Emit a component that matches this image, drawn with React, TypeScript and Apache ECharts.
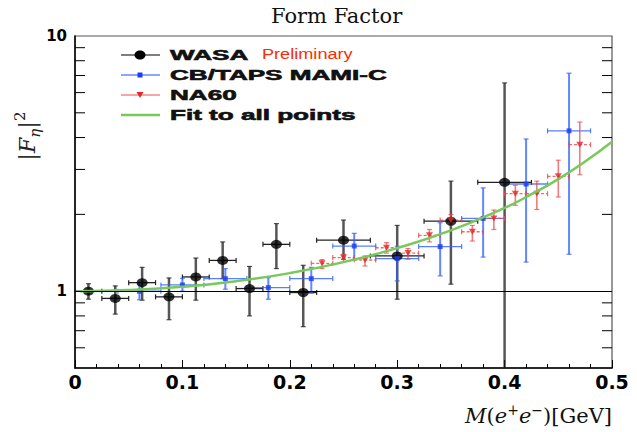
import React, { useEffect, useRef } from 'react';
import * as echarts from 'echarts';

// ---- data ----
const wasaX = [0.0125, 0.0375, 0.0625, 0.0875, 0.1125, 0.1375, 0.1625, 0.1875, 0.2125, 0.25, 0.3, 0.35, 0.4];
const wasaY = [1.0, 0.937, 1.08, 0.95, 1.137, 1.32, 1.024, 1.526, 0.988, 1.585, 1.374, 1.88, 2.67];
const wasaXErr = [0.0125, 0.0125, 0.0125, 0.0125, 0.0125, 0.0125, 0.0125, 0.0125, 0.0125, 0.025, 0.025, 0.025, 0.025];
const wasaLow = [0.93, 0.813, 0.922, 0.773, 0.922, 1.12, 0.8, 1.226, 0.726, 1.334, 0.93, 1.065, 0.5];
const wasaHigh = [1.07, 1.049, 1.24, 1.127, 1.349, 1.56, 1.25, 1.84, 1.263, 1.9, 1.81, 2.7, 6.55];

const cbX = [0.06, 0.1, 0.14, 0.18, 0.22, 0.26, 0.3, 0.34, 0.38, 0.42, 0.46];
const cbY = [1.0, 1.058, 1.12, 1.033, 1.12, 1.503, 1.342, 1.495, 1.928, 2.63, 4.25];
const cbXErr = [0.02, 0.02, 0.02, 0.02, 0.02, 0.02, 0.02, 0.02, 0.02, 0.02, 0.02];
const cbLow = [0.925, 1.0, 1.018, 0.93, 0.982, 1.334, 1.097, 1.148, 1.36, 1.3, 1.395];
const cbHigh = [1.065, 1.124, 1.226, 1.13, 1.24, 1.685, 1.5, 1.854, 2.54, 3.95, 7.15];

const naX = [0.23, 0.25, 0.27, 0.29, 0.31, 0.33, 0.35, 0.37, 0.39, 0.41, 0.43, 0.45, 0.47];
const naY = [1.286, 1.354, 1.325, 1.48, 1.41, 1.655, 1.9, 1.71, 1.928, 2.41, 2.41, 2.82, 3.75];
const naXErr = [0.01, 0.01, 0.01, 0.01, 0.01, 0.01, 0.01, 0.01, 0.01, 0.01, 0.01, 0.01, 0.01];
const naLow = [1.226, 1.3, 1.255, 1.41, 1.334, 1.56, 1.81, 1.572, 1.745, 2.17, 2.09, 2.34, 2.86];
const naHigh = [1.33, 1.395, 1.374, 1.55, 1.47, 1.745, 1.998, 1.81, 2.08, 2.6, 2.7, 3.26, 4.6];

const fitX = [0.005, 0.05, 0.1, 0.15, 0.2, 0.25, 0.3, 0.35, 0.4, 0.425, 0.45, 0.475, 0.5];
const fitY = [1.0, 1.01, 1.04, 1.094, 1.177, 1.3, 1.475, 1.73, 2.12, 2.4, 2.75, 3.22, 3.85];

const yMinorTicks = [0.6, 0.7, 0.8, 0.9, 2, 3, 4, 5, 6, 7, 8, 9];
const xMin = 0;
const xMax = 0.5;
const yMin = 0.5;
const yMax = 10;

const legendNames = ['WASA', 'CB/TAPS MAMI-C', 'NA60', 'Fit to all points'];

function errSeries(name: string, xs: number[], ys: number[], xe: number[], lo: number[], hi: number[],
  vColor: string, vWidth: number, hColor: string, hWidth: number, dash: number[] | null) {
  return {
    type: 'custom',
    name,
    data: xs.map((x, i) => [x, ys[i], x - xe[i], x + xe[i], lo[i], hi[i]]),
    encode: { x: 0, y: 1 },
    silent: true,
    renderItem: (params: any, api: any) => {
      const c = api.coord([api.value(0), api.value(1)]);
      const l = api.coord([api.value(2), api.value(1)]);
      const r = api.coord([api.value(3), api.value(1)]);
      const b = api.coord([api.value(0), api.value(4)]);
      const t = api.coord([api.value(0), api.value(5)]);
      const cs = params.coordSys;
      const bottom = cs.y + cs.height;
      const cap = 2.5;
      const children: any[] = [
        { type: 'line', shape: { x1: b[0], y1: Math.min(b[1], bottom), x2: t[0], y2: t[1] }, style: { stroke: vColor, lineWidth: vWidth } },
        { type: 'line', shape: { x1: l[0], y1: c[1], x2: r[0], y2: c[1] }, style: { stroke: hColor, lineWidth: hWidth, lineDash: dash || undefined } },
        { type: 'line', shape: { x1: t[0] - cap, y1: t[1], x2: t[0] + cap, y2: t[1] }, style: { stroke: vColor, lineWidth: 1.2 } },
        { type: 'line', shape: { x1: l[0], y1: c[1] - cap, x2: l[0], y2: c[1] + cap }, style: { stroke: hColor, lineWidth: 1.2 } },
        { type: 'line', shape: { x1: r[0], y1: c[1] - cap, x2: r[0], y2: c[1] + cap }, style: { stroke: hColor, lineWidth: 1.2 } },
      ];
      if (b[1] < bottom - 1) {
        children.push({ type: 'line', shape: { x1: b[0] - cap, y1: b[1], x2: b[0] + cap, y2: b[1] }, style: { stroke: vColor, lineWidth: 1.2 } });
      }
      return { type: 'group', children };
    },
  };
}

const legendRows = [55, 75, 95, 115];
const lx1 = 121, lx2 = 160, lmx = 140, ltx = 170;
const sx = 1.74;
const legendFont = 'bold 15px "Liberation Sans", Arial, sans-serif';
const legendTextStyle = { font: legendFont, fill: '#111', stroke: '#111', lineWidth: 0.6, textAlign: 'left', textVerticalAlign: 'middle' };

const graphics: any[] = [
  // legend
  { type: 'line', shape: { x1: lx1, y1: legendRows[0], x2: lx2, y2: legendRows[0] }, style: { stroke: '#555', lineWidth: 1.5 } },
  { type: 'ellipse', shape: { cx: lmx, cy: legendRows[0], rx: 5.5, ry: 4.5 }, style: { fill: '#000' } },
  { type: 'text', x: ltx, y: legendRows[0], scaleX: sx, style: { ...legendTextStyle, text: legendNames[0] } },
  { type: 'text', x: 262, y: legendRows[0] - 1, scaleX: 1.17, style: { text: 'Preliminary', font: '15.5px "Liberation Sans", Arial, sans-serif', fill: '#ff2a00', textAlign: 'left', textVerticalAlign: 'middle' } },

  { type: 'line', shape: { x1: lx1, y1: legendRows[1], x2: lx2, y2: legendRows[1] }, style: { stroke: '#6a86ff', lineWidth: 1.5 } },
  { type: 'rect', shape: { x: lmx - 2.5, y: legendRows[1] - 2.5, width: 5, height: 5 }, style: { fill: '#1e3cf0' } },
  { type: 'text', x: ltx, y: legendRows[1], scaleX: sx, style: { ...legendTextStyle, text: legendNames[1] } },

  { type: 'line', shape: { x1: lx1, y1: legendRows[2], x2: lx2, y2: legendRows[2] }, style: { stroke: '#f08a8a', lineWidth: 1.5 } },
  { type: 'polygon', shape: { points: [[lmx - 3.5, legendRows[2] - 3], [lmx + 3.5, legendRows[2] - 3], [lmx, legendRows[2] + 3]] }, style: { fill: '#e8262a' } },
  { type: 'text', x: ltx, y: legendRows[2], scaleX: sx, style: { ...legendTextStyle, text: legendNames[2] } },

  { type: 'line', shape: { x1: lx1, y1: legendRows[3], x2: lx2, y2: legendRows[3] }, style: { stroke: '#77c95a', lineWidth: 2.5 } },
  { type: 'text', x: ltx, y: legendRows[3], scaleX: sx, style: { ...legendTextStyle, text: legendNames[3] } },

  // y axis name |F_eta|^2
  {
    type: 'text', x: 27, y: 136, rotation: Math.PI / 2,
    style: {
      text: '{b||}{f|F}{sub|η}{b||}{sup|2}',
      fill: '#222',
      textAlign: 'center', textVerticalAlign: 'middle',
      rich: {
        b: { fontFamily: 'DejaVu Serif', fontSize: 23, lineHeight: 30, fill: '#333' },
        f: { fontFamily: 'DejaVu Serif', fontStyle: 'italic', fontSize: 22, lineHeight: 30, fill: '#222' },
        sub: { fontFamily: 'DejaVu Serif', fontStyle: 'italic', fontSize: 15, lineHeight: 15, verticalAlign: 'bottom', fill: '#222' },
        sup: { fontFamily: 'DejaVu Serif', fontSize: 15, lineHeight: 15, verticalAlign: 'top', fill: '#222' },
      },
    },
  },
];

const option: any = {
  animation: false,
  backgroundColor: '#fff',
  title: {
    text: 'Form Factor',
    left: 266,
    top: 0,
    textStyle: { fontFamily: 'DejaVu Serif', fontSize: 21, fontWeight: 'normal', color: '#111' },
  },
  grid: { left: 75, right: 25, top: 36, bottom: 64, show: true, borderColor: '#555', borderWidth: 1.2, backgroundColor: 'transparent' },
  xAxis: {
    type: 'value', min: xMin, max: xMax, interval: 0.1,
    name: '{i|M}{n|(}{i|e}{s|+}{i|e}{s|−}{n|)[GeV]}',
    nameLocation: 'end', nameGap: 0,
    nameTextStyle: {
      align: 'right', verticalAlign: 'top', padding: [35, 0, 0, 0],
      fontFamily: 'DejaVu Serif', fontSize: 21, color: '#111',
      rich: {
        i: { fontFamily: 'DejaVu Serif', fontStyle: 'italic', fontSize: 21, lineHeight: 26, color: '#111' },
        n: { fontFamily: 'DejaVu Serif', fontSize: 21, lineHeight: 26, color: '#111' },
        s: { fontFamily: 'DejaVu Serif', fontSize: 14, lineHeight: 14, verticalAlign: 'top', color: '#111' },
      },
    },
    axisLine: { show: true, lineStyle: { color: '#000', width: 1.5 } },
    axisTick: { show: true, inside: true, length: 8, lineStyle: { color: '#000', width: 1 } },
    minorTick: { show: true, splitNumber: 5, length: 4, lineStyle: { color: '#000', width: 1 } },
    splitLine: { show: false },
    axisLabel: {
      margin: 4, color: '#000', fontFamily: 'DejaVu Sans', fontWeight: 'bold', fontSize: 19,
      showMinLabel: true, showMaxLabel: true,
      formatter: (v: number) => (Math.abs(v) < 1e-9 ? '0' : String(Math.round(v * 10) / 10)),
    },
  },
  yAxis: {
    type: 'log', logBase: 10, min: yMin, max: yMax,
    axisLine: { show: true, lineStyle: { color: '#000', width: 1.5 } },
    axisTick: { show: false },
    splitLine: { show: false },
    axisLabel: {
      margin: 8, color: '#000', fontFamily: 'DejaVu Sans', fontWeight: 'bold', fontSize: 15,
      formatter: (v: number) => (Math.abs(v - 1) < 1e-6 ? '1' : Math.abs(v - 10) < 1e-6 ? '10' : ''),
    },
  },
  graphic: graphics,
  series: [
    {
      type: 'custom',
      name: 'yticks',
      silent: true,
      data: yMinorTicks.map((v) => [xMin, v]),
      encode: { x: 0, y: 1 },
      renderItem: (params: any, api: any) => {
        const p = api.coord([api.value(0), api.value(1)]);
        const cs = params.coordSys;
        const L = 10;
        return {
          type: 'group',
          children: [
            { type: 'line', shape: { x1: cs.x, y1: p[1], x2: cs.x + L, y2: p[1] }, style: { stroke: '#000', lineWidth: 1 } },
            { type: 'line', shape: { x1: cs.x + cs.width - L, y1: p[1], x2: cs.x + cs.width, y2: p[1] }, style: { stroke: '#000', lineWidth: 1 } },
          ],
        };
      },
    },
    errSeries('WASA bars', wasaX, wasaY, wasaXErr, wasaLow, wasaHigh, 'rgba(30,30,30,0.75)', 2.5, '#222', 1.3, null),
    {
      type: 'scatter', name: legendNames[0], data: wasaX.map((x, i) => [x, wasaY[i]]),
      symbol: 'circle', symbolSize: [11, 9], itemStyle: { color: '#000' }, silent: true,
    },
    errSeries('CB bars', cbX, cbY, cbXErr, cbLow, cbHigh, 'rgba(45,95,255,0.75)', 2, 'rgba(45,95,255,0.8)', 1.3, null),
    {
      type: 'scatter', name: legendNames[1], data: cbX.map((x, i) => [x, cbY[i]]),
      symbol: 'rect', symbolSize: 5, itemStyle: { color: '#1e3cf0' }, silent: true,
    },
    errSeries('NA60 bars', naX, naY, naXErr, naLow, naHigh, 'rgba(232,70,70,0.7)', 1.6, 'rgba(232,70,70,0.8)', 1.3, [3, 2]),
    {
      type: 'scatter', name: legendNames[2], data: naX.map((x, i) => [x, naY[i]]),
      symbol: 'triangle', symbolRotate: 180, symbolSize: [7, 6], itemStyle: { color: '#e8262a' }, silent: true,
    },
    {
      type: 'line', name: legendNames[3], data: fitX.map((x, i) => [x, fitY[i]]),
      smooth: true, showSymbol: false, symbol: 'none', silent: true,
      lineStyle: { color: '#77c95a', width: 2.5 },
      markLine: {
        silent: true, symbol: 'none', label: { show: false },
        lineStyle: { color: '#000', width: 1, type: 'solid' },
        data: [{ yAxis: 1 }],
      },
    },
  ],
};

export default function App() {
  const ref = useRef<HTMLDivElement>(null);
  useEffect(() => {
    const chart = echarts.init(ref.current as HTMLDivElement, null, { renderer: 'svg' });
    chart.setOption(option);
    return () => chart.dispose();
  }, []);
  return (
    <div
      ref={ref}
      style={{ position: 'fixed', left: 0, top: 0, width: 637, height: 432, background: '#fff' }}
    />
  );
}
